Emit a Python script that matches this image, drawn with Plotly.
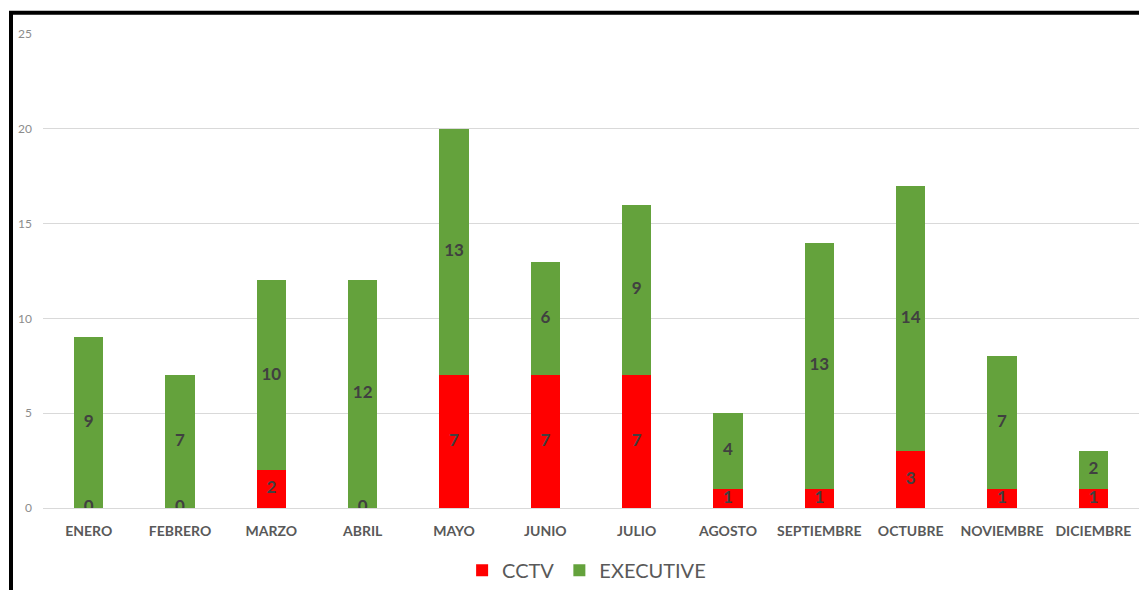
import plotly.graph_objects as go

months = ["ENERO", "FEBRERO", "MARZO", "ABRIL", "MAYO", "JUNIO", "JULIO",
          "AGOSTO", "SEPTIEMBRE", "OCTUBRE", "NOVIEMBRE", "DICIEMBRE"]
cctv = [0, 0, 2, 0, 7, 7, 7, 1, 1, 3, 1, 1]
executive = [9, 7, 10, 12, 13, 6, 9, 4, 13, 14, 7, 2]
y_ticks = [0, 5, 10, 15, 20, 25]

RED = "#FF0000"
GREEN = "#64A23C"
LABEL = "#404040"
FONT = "Lato, 'Open Sans', sans-serif"

fig = go.Figure()
fig.add_trace(go.Bar(x=months, y=cctv, name="CCTV", marker=dict(color=RED, line=dict(width=0)),
                     width=0.32, hoverinfo="x+y"))
fig.add_trace(go.Bar(x=months, y=executive, name="EXECUTIVE", marker=dict(color=GREEN, line=dict(width=0)),
                     width=0.32, hoverinfo="x+y"))

# labels at segment midpoints
cctv_mid = [v / 2 for v in cctv]
exec_mid = [c + e / 2 for c, e in zip(cctv, executive)]
fig.add_trace(go.Scatter(x=months, y=cctv_mid, mode="text", text=[str(v) for v in cctv],
                         textfont=dict(family=FONT, size=17, color=LABEL, weight="bold"),
                         showlegend=False, hoverinfo="skip"))
fig.add_trace(go.Scatter(x=months, y=exec_mid, mode="text", text=[str(v) for v in executive],
                         textfont=dict(family=FONT, size=17, color=LABEL, weight="bold"),
                         showlegend=False, hoverinfo="skip"))

fig.update_layout(
    barmode="stack",
    width=1139, height=590,
    margin=dict(l=43, r=0, t=34, b=78),
    plot_bgcolor="white", paper_bgcolor="white",
    font=dict(family=FONT),
    showlegend=True,
    legend=dict(orientation="h", x=0.496, xanchor="center", y=-0.09, yanchor="top",
                font=dict(size=20, color="#595959", family=FONT), traceorder="normal",
                itemwidth=30),
    xaxis=dict(type="category", showgrid=False, showline=False, ticks="",
               tickfont=dict(size=14, color="#595959", family=FONT, weight="bold"),
               ticklabelstandoff=13, range=[-0.5, 11.5]),
    yaxis=dict(range=[0, 25], tickvals=y_ticks, showgrid=True, gridcolor="#D9D9D9",
               gridwidth=1, zeroline=True, zerolinecolor="#D9D9D9", zerolinewidth=1,
               tickfont=dict(size=12, color="#8C8C8C", family=FONT), ticks="",
               ticklabelstandoff=10),
    shapes=[dict(type="rect", xref="paper", yref="paper",
                 x0=(11 - 43) / 1096, x1=1.05, y0=-0.4, y1=1 + (34 - 12.5) / 478,
                 line=dict(color="black", width=4), fillcolor="rgba(0,0,0,0)", layer="above")],
)

fig.write_html("out.html", config={"displayModeBar": False},
               post_script="document.body.style.margin='0';document.body.style.overflow='hidden';")
